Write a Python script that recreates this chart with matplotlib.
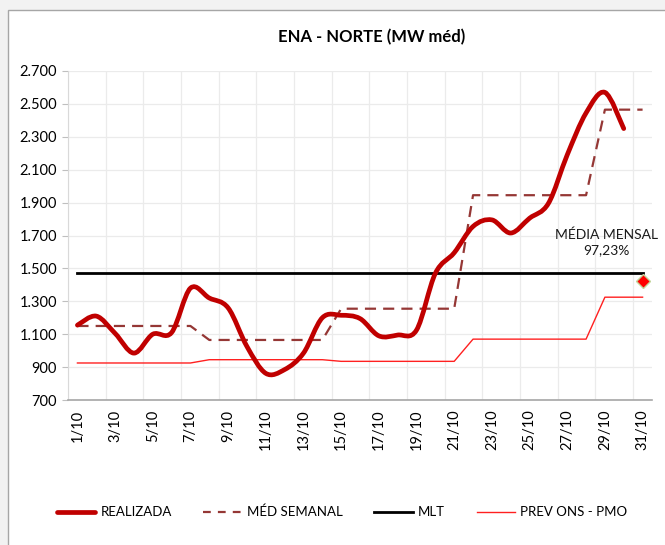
import matplotlib
matplotlib.use('Agg')
import matplotlib.pyplot as plt
from matplotlib.path import Path
from matplotlib.patches import PathPatch, Rectangle
from matplotlib.lines import Line2D
from matplotlib.ticker import FuncFormatter, FixedLocator
import numpy as np

plt.rcParams['font.family'] = ['Lato', 'DejaVu Sans']

days = list(range(1, 32))
day_labels = ['%d/10' % d for d in days]

realizada = [1155, 1210, 1105, 985, 1100, 1110, 1380, 1320, 1260, 1025,
             862, 885, 985, 1200, 1215, 1195, 1090, 1095, 1125, 1470,
             1595, 1755, 1795, 1715, 1805, 1895, 2190, 2445, 2570, 2350]
med_semanal = [1150, 1150, 1150, 1150, 1150, 1150, 1150,
               1065, 1065, 1065, 1065, 1065, 1065, 1065,
               1255, 1255, 1255, 1255, 1255, 1255, 1255,
               1945, 1945, 1945, 1945, 1945, 1945, 1945,
               2465, 2465, 2465]
prev_pmo = [925, 925, 925, 925, 925, 925, 925,
            945, 945, 945, 945, 945, 945, 945,
            935, 935, 935, 935, 935, 935, 935,
            1070, 1070, 1070, 1070, 1070, 1070, 1070,
            1325, 1325, 1325]
mlt = 1475
media_mensal_val = 1425
media_mensal_txt = 'MÉDIA MENSAL\n97,23%'


def smooth_path(xs, ys):
    # bezier smoothing like excel's "smoothed line"
    pts = np.column_stack([xs, ys]).astype(float)
    n = len(pts)
    verts = [pts[0]]
    codes = [Path.MOVETO]
    for i in range(n - 1):
        p0 = pts[i - 1] if i > 0 else pts[i]
        p1 = pts[i]
        p2 = pts[i + 1]
        p3 = pts[i + 2] if i + 2 < n else pts[i + 1]
        c1 = p1 + (p2 - p0) / 6.0
        c2 = p2 - (p3 - p1) / 6.0
        verts += [c1, c2, p2]
        codes += [Path.CURVE4] * 3
    return Path(verts, codes)


fig = plt.figure(figsize=(6.65, 5.45), dpi=100, facecolor='#f2f2f2')
fig.patches.append(Rectangle((8 / 665, -0.01), 1.0, 1 - 10 / 545 + 0.01,
                             transform=fig.transFigure, facecolor='white',
                             edgecolor='#a6a6a6', linewidth=1.0, zorder=-10))

ax = fig.add_axes([68 / 665, 1 - 400 / 545, (652 - 68) / 665, (400 - 71) / 545])
ax.set_facecolor('none')

ax.set_xlim(0.5, 31.5)
ax.set_ylim(700, 2700)
ax.set_yticks(range(700, 2701, 200))
ax.yaxis.set_major_formatter(FuncFormatter(lambda v, p: '{:,.0f}'.format(v).replace(',', '.')))
ax.set_xticks(days[::2])
ax.set_xticklabels(day_labels[::2], rotation=90, ha='center', va='top')
ax.xaxis.set_minor_locator(FixedLocator(np.arange(0.5, 32, 2)))

ax.grid(True, axis='y', color='#ebebeb', linewidth=0.9)
ax.grid(True, axis='x', which='minor', color='#ebebeb', linewidth=0.9)
ax.set_axisbelow(True)
for s in ['top', 'right']:
    ax.spines[s].set_visible(False)
ax.spines['left'].set_color('#d9d9d9')
ax.spines['bottom'].set_color('#a6a6a6')
ax.spines['bottom'].set_linewidth(1.2)
ax.tick_params(axis='y', length=4, color='#bfbfbf', labelsize=10.5, pad=4)
ax.tick_params(axis='x', which='both', length=0, labelsize=10.5, pad=7)

# lines
ax.plot(days, prev_pmo, color='#ff2020', linewidth=1.0, zorder=3)
ax.plot(days, [mlt] * len(days), color='black', linewidth=2.0, zorder=4)
ax.plot(days, med_semanal, color='#953735', linewidth=1.6, dashes=(5, 3.2), zorder=5)
real_path = smooth_path(days[:len(realizada)], realizada)
ax.add_patch(PathPatch(real_path, fill=False, edgecolor='#c00000', linewidth=3.4,
                       capstyle='round', joinstyle='round', zorder=6))
ax.plot([31], [media_mensal_val], marker='D', markersize=7, color='#ff0000',
        markeredgecolor='#c3d69b', markeredgewidth=1.0, linestyle='none',
        zorder=7, clip_on=False)
ax.text(29.06, 1657, media_mensal_txt, ha='center', va='center', fontsize=10,
        linespacing=1.35, color='#1a1a1a')

fig.text(372 / 665, 1 - 37 / 545, 'ENA - NORTE (MW méd)', ha='center', va='center',
         fontsize=12, fontweight='bold')

handles = [Line2D([], [], color='#c00000', linewidth=3.4, solid_capstyle='round'),
           Line2D([], [], color='#953735', linewidth=1.6, dashes=(3.5, 3.2)),
           Line2D([], [], color='black', linewidth=2.0),
           Line2D([], [], color='#ff2020', linewidth=1.0)]
labels = ['REALIZADA', 'MÉD SEMANAL', 'MLT', 'PREV ONS - PMO']
fig.legend(handles, labels, loc='center', bbox_to_anchor=(342 / 665, 1 - 512 / 545),
           ncol=4, frameon=False, fontsize=9.5, handlelength=2.9,
           handletextpad=0.4, columnspacing=2.4)

fig.savefig('out.png', dpi=100, facecolor=fig.get_facecolor())
